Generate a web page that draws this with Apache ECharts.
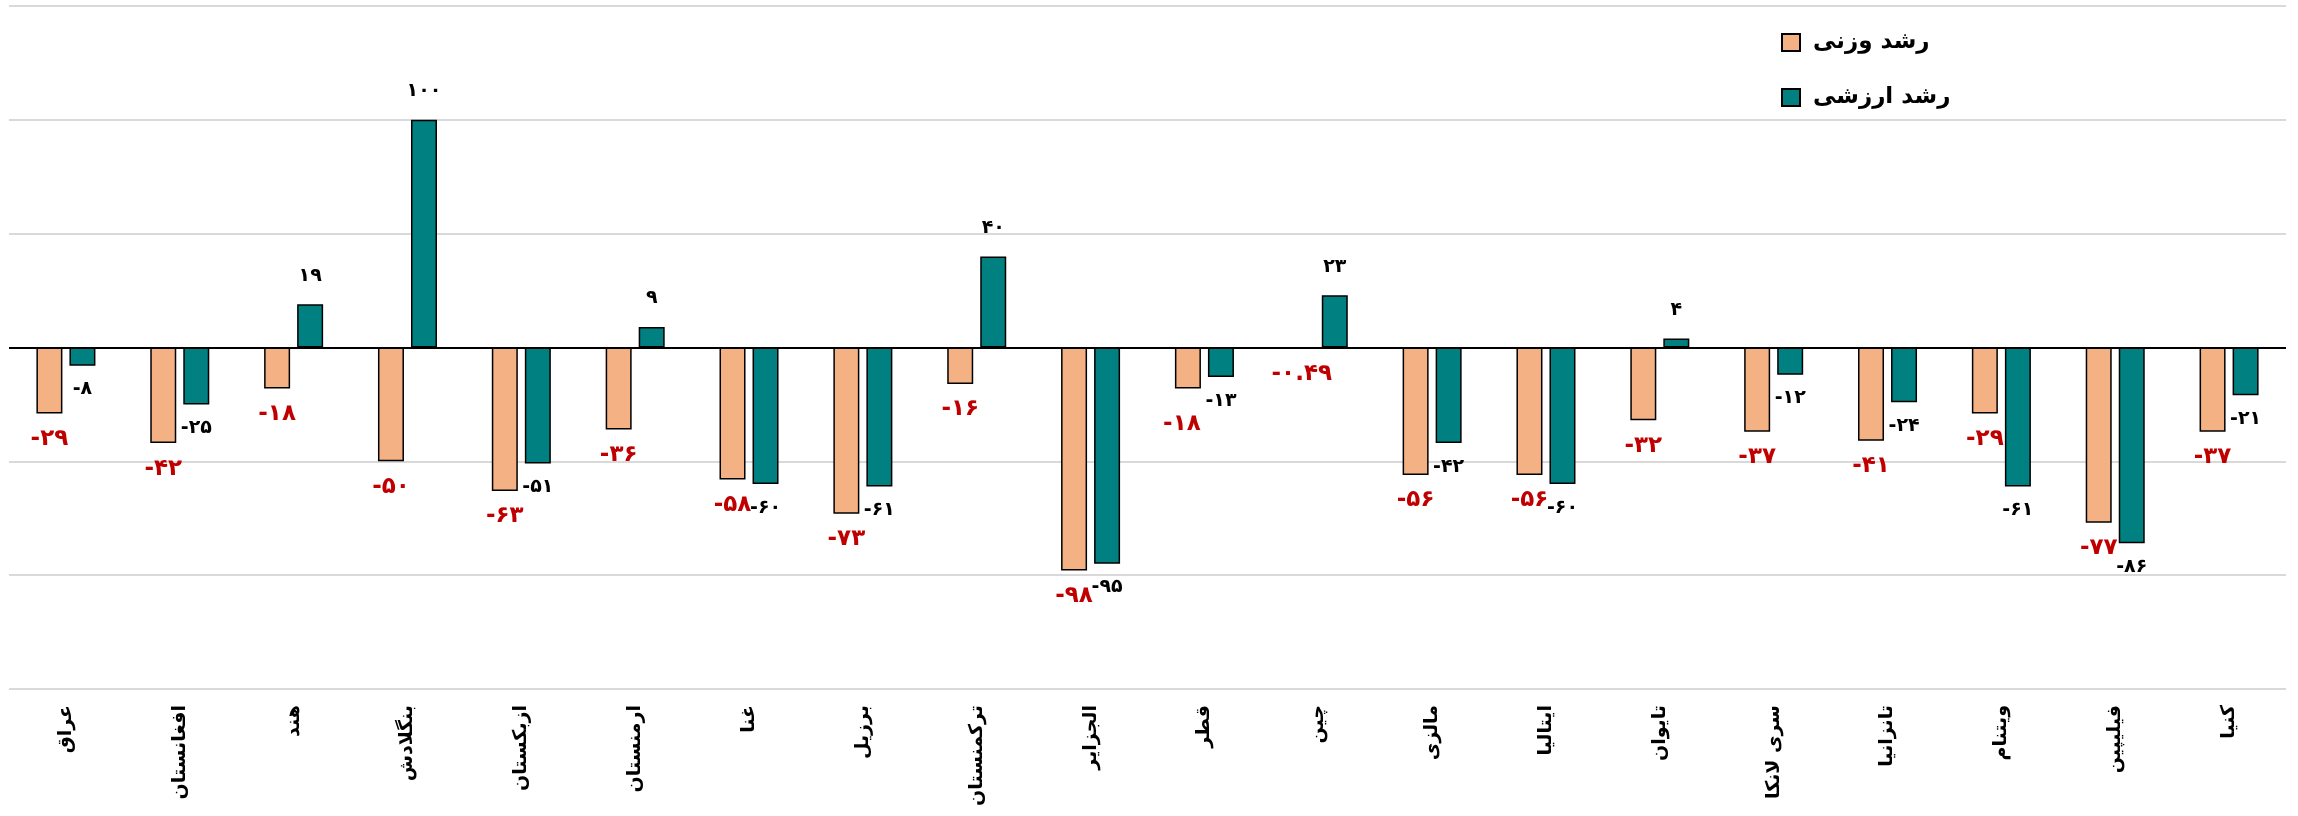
<!DOCTYPE html>
<html>
<head>
<meta charset="utf-8">
<script src="https://cdn.jsdelivr.net/npm/echarts@6/dist/echarts.min.js"></script>
<style>html,body{margin:0;padding:0;background:#fff}#c{width:2298px;height:816px}</style>
</head>
<body>
<div id="c"></div>
<script>
const categories = ['عراق','افغانستان','هند','بنگلادش','ازبکستان','ارمنستان','غنا','برزیل','ترکمنستان','الجزایر','قطر','چین','مالزی','ایتالیا','تایوان','سری لانکا','تانزانیا','ویتنام','فیلیپین','کنیا'];
const weightGrowth = [-29,-42,-18,-50,-63,-36,-58,-73,-16,-98,-18,-0.49,-56,-56,-32,-37,-41,-29,-77,-37];
const valueGrowth = [-8,-25,19,100,-51,9,-60,-61,40,-95,-13,23,-42,-60,4,-12,-24,-61,-86,-21];
const seriesNames = ['رشد وزنی','رشد ارزشی'];
const yTicks = {min:-150, max:150, interval:50};

const FA = '۰۱۲۳۴۵۶۷۸۹';
const toFa = v => String(v).replace(/\d/g, d => FA[d]);
const font = 'DejaVu Sans';

const chart = echarts.init(document.getElementById('c'));
chart.setOption({
  animation: false,
  backgroundColor: '#fff',
  grid: {left: 9, right: 12, top: 6, bottom: 127},
  legend: {
    orient: 'vertical', left: 1776, top: 26,
    icon: 'rect',
    itemWidth: 18, itemHeight: 17, itemGap: 32,
    textStyle: {fontFamily: font, fontSize: 23, fontWeight: 'bold', color: '#000', padding: [0, 0, 0, 8]},
    data: seriesNames
  },
  xAxis: {
    type: 'category', data: categories,
    axisLine: {show: false}, axisTick: {show: false},
    axisLabel: {rotate: 90, margin: 16, interval: 0, fontFamily: font, fontSize: 19, fontWeight: 'bold', color: '#000'}
  },
  yAxis: {
    type: 'value', min: yTicks.min, max: yTicks.max, interval: yTicks.interval,
    axisLabel: {show: false}, axisLine: {show: false}, axisTick: {show: false},
    splitLine: {lineStyle: {color: '#D9D9D9', width: 2}}
  },
  series: [
    {
      name: seriesNames[0], type: 'bar', barWidth: 26, barGap: '27%',
      itemStyle: {color: '#F4B183', borderColor: '#000', borderWidth: 1.5},
      data: weightGrowth.map((v, i) => ({
        value: v,
        label: categories[i] === 'قطر' ? {position: 'bottom', offset: [-6, 10]} : {position: v >= 0 ? 'top' : 'bottom'}
      })),
      label: {show: true, distance: 14, formatter: p => toFa(p.value), fontFamily: font, fontSize: 23, fontWeight: 'bold', color: '#C00000'},
      markLine: {silent: true, symbol: 'none', label: {show: false}, lineStyle: {color: '#000', width: 2, type: 'solid'}, data: [{yAxis: 0}], z: 5}
    },
    {
      name: seriesNames[1], type: 'bar', barWidth: 26,
      itemStyle: {color: '#008080', borderColor: '#000', borderWidth: 1.5},
      data: valueGrowth.map(v => ({value: v, label: {position: v >= 0 ? 'top' : 'bottom', distance: v >= 0 ? 19 : 14}})),
      label: {show: true, formatter: p => toFa(p.value), fontFamily: font, fontSize: 19, fontWeight: 'bold', color: '#000'}
    }
  ]
});
</script>
</body>
</html>
